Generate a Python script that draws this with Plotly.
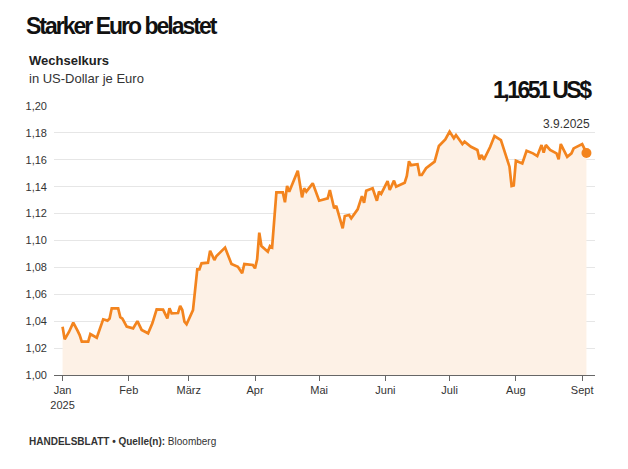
import plotly.graph_objects as go

# EUR/USD
dates = [
    "2025-01-01", "2025-01-02", "2025-01-04", "2025-01-06", "2025-01-08", "2025-01-09",
    "2025-01-10", "2025-01-13", "2025-01-14", "2025-01-16", "2025-01-17", "2025-01-20",
    "2025-01-22", "2025-01-23", "2025-01-24", "2025-01-27", "2025-01-28", "2025-01-29",
    "2025-01-31", "2025-02-03", "2025-02-05", "2025-02-07", "2025-02-10", "2025-02-12",
    "2025-02-14", "2025-02-17", "2025-02-19", "2025-02-20", "2025-02-21", "2025-02-24",
    "2025-02-25", "2025-02-26", "2025-02-27", "2025-02-28", "2025-03-03", "2025-03-05",
    "2025-03-06", "2025-03-07", "2025-03-10", "2025-03-11", "2025-03-13", "2025-03-14",
    "2025-03-18", "2025-03-21", "2025-03-24", "2025-03-26", "2025-03-27", "2025-03-31",
    "2025-04-01", "2025-04-02", "2025-04-03", "2025-04-04", "2025-04-07", "2025-04-08",
    "2025-04-09", "2025-04-11", "2025-04-14", "2025-04-15", "2025-04-16", "2025-04-17",
    "2025-04-21", "2025-04-23", "2025-04-24", "2025-04-25", "2025-04-28", "2025-05-01",
    "2025-05-05", "2025-05-06", "2025-05-08", "2025-05-09", "2025-05-12", "2025-05-13",
    "2025-05-15", "2025-05-16", "2025-05-19", "2025-05-21", "2025-05-22", "2025-05-23",
    "2025-05-26", "2025-05-28", "2025-05-29", "2025-05-30", "2025-06-02", "2025-06-03",
    "2025-06-05", "2025-06-06", "2025-06-10", "2025-06-11", "2025-06-12", "2025-06-13",
    "2025-06-16", "2025-06-17", "2025-06-18", "2025-06-20", "2025-06-24", "2025-06-26",
    "2025-06-29", "2025-07-01", "2025-07-03", "2025-07-04", "2025-07-07", "2025-07-08",
    "2025-07-11", "2025-07-14", "2025-07-15", "2025-07-16", "2025-07-17", "2025-07-20",
    "2025-07-22", "2025-07-25", "2025-07-29", "2025-07-30", "2025-07-31", "2025-08-01",
    "2025-08-04", "2025-08-06", "2025-08-09", "2025-08-11", "2025-08-13", "2025-08-14",
    "2025-08-15", "2025-08-17", "2025-08-20", "2025-08-21", "2025-08-22", "2025-08-25",
    "2025-08-27", "2025-08-28", "2025-09-01", "2025-09-03",
]
rates = [
    1.0359, 1.0265, 1.0320, 1.0389, 1.0330, 1.0297,
    1.0248, 1.0248, 1.0305, 1.0290, 1.0277, 1.0414,
    1.0404, 1.0420, 1.0496, 1.0495, 1.0430, 1.0419,
    1.0360, 1.0347, 1.0401, 1.0335, 1.0310, 1.0384,
    1.0488, 1.0486, 1.0421, 1.0496, 1.0459, 1.0461,
    1.0513, 1.0483, 1.0396, 1.0377, 1.0483, 1.0786,
    1.0786, 1.0830, 1.0835, 1.0924, 1.0855, 1.0885,
    1.0947, 1.0825, 1.0805, 1.0756, 1.0825, 1.0818,
    1.0793, 1.0860, 1.1058, 1.0959, 1.0917, 1.0959,
    1.0949, 1.1358, 1.1358, 1.1284, 1.1405, 1.1363,
    1.1519, 1.1321, 1.1388, 1.1363, 1.1425, 1.1296,
    1.1313, 1.1375, 1.1240, 1.1257, 1.1090, 1.1182,
    1.1190, 1.1165, 1.1232, 1.1330, 1.1280, 1.1370,
    1.1388, 1.1296, 1.1363, 1.1346, 1.1442, 1.1375,
    1.1445, 1.1400, 1.1430, 1.1480, 1.1589, 1.1560,
    1.1567, 1.1487, 1.1487, 1.1537, 1.1586, 1.1703,
    1.1752, 1.1810, 1.1760, 1.1784, 1.1717, 1.1735,
    1.1697, 1.1673, 1.1603, 1.1636, 1.1600, 1.1697,
    1.1777, 1.1747, 1.1549, 1.1405, 1.1410, 1.1593,
    1.1573, 1.1667, 1.1648, 1.1628, 1.1710, 1.1653,
    1.1710, 1.1673, 1.1648, 1.1603, 1.1717, 1.1622,
    1.1648, 1.1685, 1.1717, 1.1651,
]

month_ticks = ["2025-01-01", "2025-02-01", "2025-03-01", "2025-04-01", "2025-05-01",
               "2025-06-01", "2025-07-01", "2025-08-01", "2025-09-01"]
month_labels = ["Jan<br>2025", "Feb", "März", "Apr", "Mai", "Juni", "Juli", "Aug", "Sept"]
y_ticks = [1.00, 1.02, 1.04, 1.06, 1.08, 1.10, 1.12, 1.14, 1.16, 1.18, 1.20]

ORANGE = "#F3841E"
FILL = "#FDF1E6"
FONT = "Liberation Sans, Arial, sans-serif"

fig = go.Figure()
fig.add_trace(go.Scatter(
    x=dates, y=rates, mode="lines",
    line=dict(color=ORANGE, width=2.7),
    fill="tozeroy", fillcolor=FILL,
    hoverinfo="skip",
))
# end point marker
fig.add_trace(go.Scatter(
    x=[dates[-1]], y=[rates[-1]], mode="markers",
    marker=dict(color=ORANGE, size=10),
    hoverinfo="skip",
))

# page body has an 8px margin, so margins are set 8px smaller on top/left
fig.update_layout(
    width=628, height=469,
    margin=dict(l=46, r=41, t=98, b=102),
    paper_bgcolor="white", plot_bgcolor="white",
    showlegend=False,
    separators=",.",
    font=dict(family=FONT, size=11, color="#333333"),
)

fig.update_xaxes(
    range=["2024-12-28", "2025-09-07"],
    tickvals=month_ticks, ticktext=month_labels,
    showgrid=False, showline=True, linecolor="#666666", linewidth=1,
    ticks="outside", ticklen=5, tickcolor="#666666",
    tickfont=dict(size=11, color="#333333"),
)
fig.update_yaxes(
    range=[1.0, 1.2], tickvals=y_ticks, tickformat=".2f",
    showgrid=True, gridcolor="#E6E6E6", gridwidth=1,
    zeroline=False, showline=False, ticks="",
    ticklabelstandoff=6,
    tickfont=dict(size=11, color="#333333"),
)

annotations = [
    dict(text="<b><span style='letter-spacing:-2px'>Starker Euro belastet</span></b>",
         x=-0.055, y=1.296, xanchor="left", yanchor="middle",
         font=dict(family=FONT, size=23, color="#111111")),
    dict(text="<b>Wechselkurs</b>", x=-0.05, y=1.171, xanchor="left", yanchor="middle",
         font=dict(family=FONT, size=13, color="#222222")),
    dict(text="in US-Dollar je Euro", x=-0.05, y=1.104, xanchor="left", yanchor="middle",
         font=dict(family=FONT, size=13, color="#333333")),
    dict(text="<b><span style='letter-spacing:-2.5px'>1,1651 US$</span></b>",
         x=0.998, y=1.06, xanchor="right", yanchor="middle",
         font=dict(family=FONT, size=23, color="#111111")),
    dict(text="3.9.2025", x=0.995, y=0.933, xanchor="right", yanchor="middle",
         font=dict(family=FONT, size=12, color="#333333")),
    dict(text="<b>HANDELSBLATT • Quelle(n):</b> Bloomberg", x=-0.05, y=-0.249,
         xanchor="left", yanchor="middle",
         font=dict(family=FONT, size=10, color="#333333")),
]
for a in annotations:
    a.update(xref="paper", yref="paper", showarrow=False)
fig.update_layout(annotations=annotations)

fig.write_html("out.html")
